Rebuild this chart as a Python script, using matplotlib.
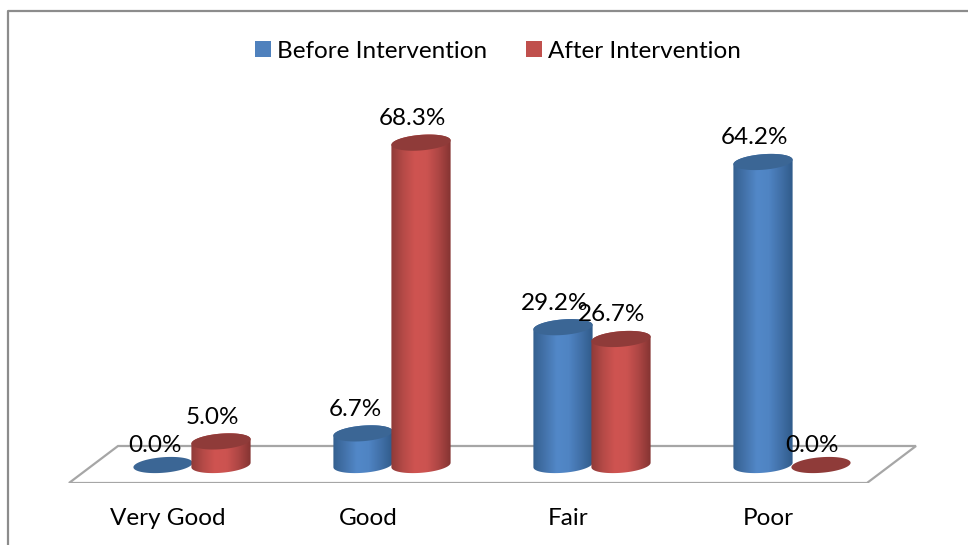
import matplotlib
matplotlib.use('Agg')
import matplotlib.pyplot as plt
import numpy as np
from matplotlib.colors import LinearSegmentedColormap
from matplotlib.lines import Line2D
from matplotlib.patches import Patch, Polygon

plt.rcParams['font.family'] = ['Lato', 'DejaVu Sans']

categories = ['Very Good', 'Good', 'Fair', 'Poor']
before = [0.0, 6.7, 29.2, 64.2]
after = [5.0, 68.3, 26.7, 0.0]

BAR_A = 0.148   # half width, x units
BAR_B = 1.65    # half height of the end ellipses, y units
SHEAR = 3.2     # tilt of the end ellipses
FONT = 17.5

blue_cmap = LinearSegmentedColormap.from_list(
    'blue', ['#34608f', '#4473ab', '#5288c8', '#4f84c3', '#4170a8', '#305b8a'])
red_cmap = LinearSegmentedColormap.from_list(
    'red', ['#8f3a38', '#b54a47', '#cf5451', '#cc5350', '#ad4644', '#843432'])


def ellipse(cx, cy, t):
    x = BAR_A * np.cos(t)
    return cx + x, cy + BAR_B * np.sin(t) + SHEAR * x


def cylinder(ax, cx, value, cmap, top_color, z):
    t_full = np.linspace(0, 2 * np.pi, 80)
    if value > 0:
        xb, yb = ellipse(cx, 0, np.linspace(np.pi, 2 * np.pi, 40))
        xt, yt = ellipse(cx, value, np.linspace(0, np.pi, 40))
        body = np.column_stack([np.r_[xb, xt], np.r_[yb, yt]])
        patch = Polygon(body, closed=True, fc='none', ec='none',
                        transform=ax.transData)
        ax.add_patch(patch)
        grad = np.linspace(0, 1, 128).reshape(1, -1)
        im = ax.imshow(grad, cmap=cmap, aspect='auto', zorder=z,
                       extent=(cx - BAR_A, cx + BAR_A, -5, value + 5),
                       interpolation='bilinear')
        im.set_clip_path(patch)
    xe, ye = ellipse(cx, value, t_full)
    ax.fill(xe, ye, color=top_color, lw=0, zorder=z + 0.1)


def value_label(ax, x, value, dx):
    dy = 20 if value == 0 else 24
    ax.annotate(f'{value:.1f}%', (x, value), xytext=(dx, dy),
                textcoords='offset pixels', ha='center', va='center',
                fontsize=FONT, color='black', zorder=10)


fig = plt.figure(figsize=(9.68, 5.45), dpi=100)
ax = fig.add_axes([0, 62 / 545, 1, 483 / 545])

# floor of the plot area
floor_x = [-0.615, 3.375, 3.62, -0.37]
floor_y = [-3.81, -3.81, 4.03, 4.03]
ax.fill(floor_x, floor_y, fc='white', ec='#a6a6a6', lw=1.6, zorder=1)

for i in range(len(categories)):
    cylinder(ax, i - 0.145, before[i], blue_cmap, '#3b6695', 2 + i)
    cylinder(ax, i + 0.145, after[i], red_cmap, '#8f3b39', 2.5 + i)

for i in range(len(categories)):
    value_label(ax, i - 0.145, before[i], -8)
    value_label(ax, i + 0.145, after[i], -9)

ax.set_xlim(-0.96, 3.88)
ax.set_ylim(-3.81, 483 / 4.72 - 3.81)
ax.set_xticks([i - 0.12 for i in range(len(categories))])
ax.set_xticklabels(categories, fontsize=FONT)
ax.tick_params(axis='x', length=0, pad=18)
ax.set_yticks([])
for s in ax.spines.values():
    s.set_visible(False)
ax.patch.set_alpha(0)

handles = [Patch(fc='#4f81bd', ec='none'), Patch(fc='#c0504d', ec='none')]
ax.legend(handles, ['Before Intervention', 'After Intervention'], ncol=2,
          loc='center', bbox_to_anchor=(498 / 968, 1 - 51 / 483), frameon=False,
          fontsize=FONT, handlelength=0.65, handleheight=0.65, handletextpad=0.25,
          columnspacing=1.6)

# outer chart border, cropped on the right and at the bottom
fig.add_artist(Line2D([8 / 968, 8 / 968, 1], [0, 1 - 11 / 545, 1 - 11 / 545],
                      color='#8c8c8c', lw=1.6))

fig.savefig('out.png', dpi=100)
